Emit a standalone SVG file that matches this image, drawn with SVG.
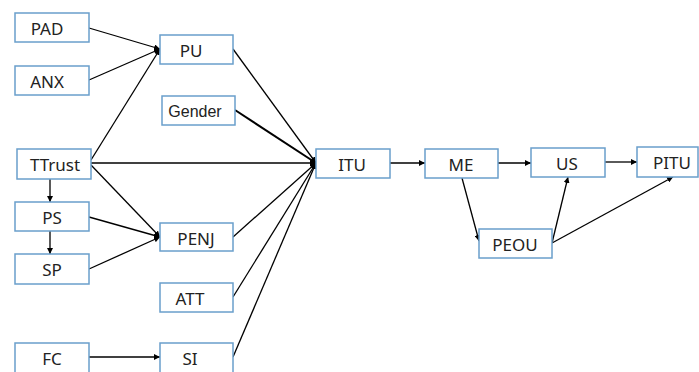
<svg xmlns="http://www.w3.org/2000/svg" width="699" height="372" viewBox="0 0 699 372">
<defs>
<marker id="ah" viewBox="0 0 10 10" refX="10" refY="5" markerWidth="6" markerHeight="6" markerUnits="userSpaceOnUse" orient="auto">
<path d="M0,0 L10,5 L0,10 z" fill="#000"/>
</marker>
<style>
.box{fill:#fff;stroke:#6a9fcb;stroke-width:1.5}
.lbl{font-family:"Noto Sans","Open Sans",sans-serif;font-size:17px;fill:#222;text-anchor:middle;dominant-baseline:central}
.c{stroke:#000;stroke-width:1.3;fill:none;marker-end:url(#ah)}
</style>
</defs>
<rect width="699" height="372" fill="#fff"/>
<g id="connectors">
<line class="c" x1="89" y1="28" x2="160" y2="49"/>
<line class="c" x1="89" y1="80" x2="160" y2="49"/>
<line class="c" x1="91" y1="160" x2="160" y2="49"/>
<line class="c" x1="91" y1="163" x2="316" y2="163"/>
<line class="c" x1="91" y1="165" x2="160" y2="237"/>
<line class="c" x1="89" y1="217" x2="160" y2="237"/>
<line class="c" x1="89" y1="269" x2="160" y2="237"/>
<line class="c" x1="50" y1="179" x2="50" y2="202"/>
<line class="c" x1="50" y1="231" x2="50" y2="254"/>
<line class="c" x1="89" y1="357" x2="160" y2="357"/>
<line class="c" x1="233" y1="49" x2="316" y2="163"/>
<line class="c" x1="235" y1="110" x2="316" y2="163" style="stroke-width:2"/>
<line class="c" x1="233" y1="237" x2="316" y2="163"/>
<line class="c" x1="233" y1="297" x2="316" y2="163"/>
<line class="c" x1="233" y1="357" x2="316" y2="163"/>
<line class="c" x1="390" y1="163" x2="425" y2="163"/>
<line class="c" x1="498" y1="163" x2="531" y2="163"/>
<line class="c" x1="605" y1="162" x2="637" y2="162"/>
<line class="c" x1="462" y1="178" x2="479" y2="241"/>
<line class="c" x1="552" y1="243" x2="568" y2="177"/>
<line class="c" x1="552" y1="243" x2="673" y2="177"/>
</g>
<g id="PAD"><rect class="box" x="15" y="13" width="74" height="29"/><text class="lbl" x="47" y="28">PAD</text></g>
<g id="ANX"><rect class="box" x="15" y="66" width="74" height="29"/><text class="lbl" x="47" y="81">ANX</text></g>
<g id="PU"><rect class="box" x="160" y="35" width="73" height="29"/><text class="lbl" x="191" y="50">PU</text></g>
<g id="Gender"><rect class="box" x="162" y="96" width="73" height="29"/><text class="lbl" x="195" y="111" style="font-family:'Liberation Sans',Arial,sans-serif;font-size:16px">Gender</text></g>
<g id="TTrust"><rect class="box" x="17" y="149" width="74" height="30"/><text class="lbl" x="55" y="164">TTrust</text></g>
<g id="PS"><rect class="box" x="15" y="202" width="74" height="29"/><text class="lbl" x="52" y="217">PS</text></g>
<g id="SP"><rect class="box" x="15" y="254" width="74" height="30"/><text class="lbl" x="52" y="269">SP</text></g>
<g id="PENJ"><rect class="box" x="160" y="223" width="73" height="28"/><text class="lbl" x="196" y="238">PENJ</text></g>
<g id="ATT"><rect class="box" x="160" y="283" width="73" height="29"/><text class="lbl" x="190" y="298">ATT</text></g>
<g id="FC"><rect class="box" x="15" y="343" width="74" height="31"/><text class="lbl" x="52" y="358">FC</text></g>
<g id="SI"><rect class="box" x="160" y="343" width="73" height="31"/><text class="lbl" x="190" y="358">SI</text></g>
<g id="ITU"><rect class="box" x="316" y="149" width="74" height="29"/><text class="lbl" x="352" y="164">ITU</text></g>
<g id="ME"><rect class="box" x="425" y="149" width="73" height="29"/><text class="lbl" x="461" y="164">ME</text></g>
<g id="US"><rect class="box" x="531" y="148" width="74" height="29"/><text class="lbl" x="567" y="163">US</text></g>
<g id="PITU"><rect class="box" x="637" y="147" width="61" height="30"/><text class="lbl" x="672" y="162">PITU</text></g>
<g id="PEOU"><rect class="box" x="479" y="229" width="73" height="29"/><text class="lbl" x="515" y="244">PEOU</text></g>
</svg>
